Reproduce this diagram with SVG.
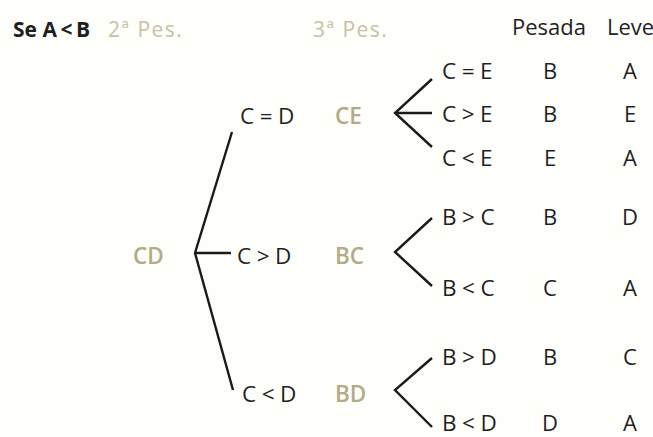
<svg xmlns="http://www.w3.org/2000/svg" width="653" height="437" viewBox="0 0 653 437">
  <style>
    text { font-family: "Open Sans", "Noto Sans", "DejaVu Sans", sans-serif; font-size: 22px; fill: #1f1f1f; }
    .rel { letter-spacing: 5.5px; font-size: 22.5px; }
    .pair { fill: #b3ab86; font-weight: 600; font-size: 22.5px; }
    .head { fill: #c8c1a3; font-size: 21px; letter-spacing: 1.5px; }
    .col { text-anchor: middle; }
    .branch { fill: none; stroke: #1a1a1a; stroke-width: 2.4; stroke-linecap: butt; stroke-linejoin: miter; }
  </style>
  <rect width="653" height="437" fill="#fefefb"/>

  <!-- header row -->
  <g id="header">
    <text x="13" y="37" style="font-weight:700;font-size:21px">Se <tspan letter-spacing="3.5">A&lt;B</tspan></text>
    <text class="head" x="108" y="37">2ª Pes.</text>
    <text class="head" x="313" y="37">3ª Pes.</text>
    <text x="512" y="35">Pesada</text>
    <text x="607" y="35">Leve</text>
  </g>

  <!-- connectors -->
  <g id="connectors">
    <path class="branch" d="M232,132 L195,253 L233,390 M195,253 H231"/>
    <path class="branch" d="M432,79 L395,113 L432,147 M395,113 H432"/>
    <path class="branch" d="M432,218 L395,252 L432,286"/>
    <path class="branch" d="M432,358 L395,390 L432,427"/>
  </g>

  <!-- first weighing -->
  <g id="n-cd"><text class="pair" x="133" y="264">CD</text></g>

  <!-- second weighing -->
  <g id="n-c-eq-d"><text class="rel" x="240" y="124">C=D</text><text class="pair" x="335" y="124">CE</text></g>
  <g id="n-c-gt-d"><text class="rel" x="237" y="264">C&gt;D</text><text class="pair" x="335" y="264">BC</text></g>
  <g id="n-c-lt-d"><text class="rel" x="242" y="402">C&lt;D</text><text class="pair" x="335" y="402">BD</text></g>

  <!-- third weighing outcomes -->
  <g id="n-c-eq-e"><text class="rel" x="442" y="79">C=E</text><text class="col" x="550" y="79">B</text><text class="col" x="630" y="79">A</text></g>
  <g id="n-c-gt-e"><text class="rel" x="442" y="122">C&gt;E</text><text class="col" x="550" y="122">B</text><text class="col" x="630" y="122">E</text></g>
  <g id="n-c-lt-e"><text class="rel" x="442" y="166">C&lt;E</text><text class="col" x="550" y="166">E</text><text class="col" x="630" y="166">A</text></g>
  <g id="n-b-gt-c"><text class="rel" x="442" y="225">B&gt;C</text><text class="col" x="550" y="225">B</text><text class="col" x="630" y="225">D</text></g>
  <g id="n-b-lt-c"><text class="rel" x="442" y="296">B&lt;C</text><text class="col" x="550" y="296">C</text><text class="col" x="630" y="296">A</text></g>
  <g id="n-b-gt-d"><text class="rel" x="442" y="365">B&gt;D</text><text class="col" x="550" y="365">B</text><text class="col" x="630" y="365">C</text></g>
  <g id="n-b-lt-d"><text class="rel" x="442" y="431">B&lt;D</text><text class="col" x="550" y="431">D</text><text class="col" x="630" y="431">A</text></g>
</svg>
